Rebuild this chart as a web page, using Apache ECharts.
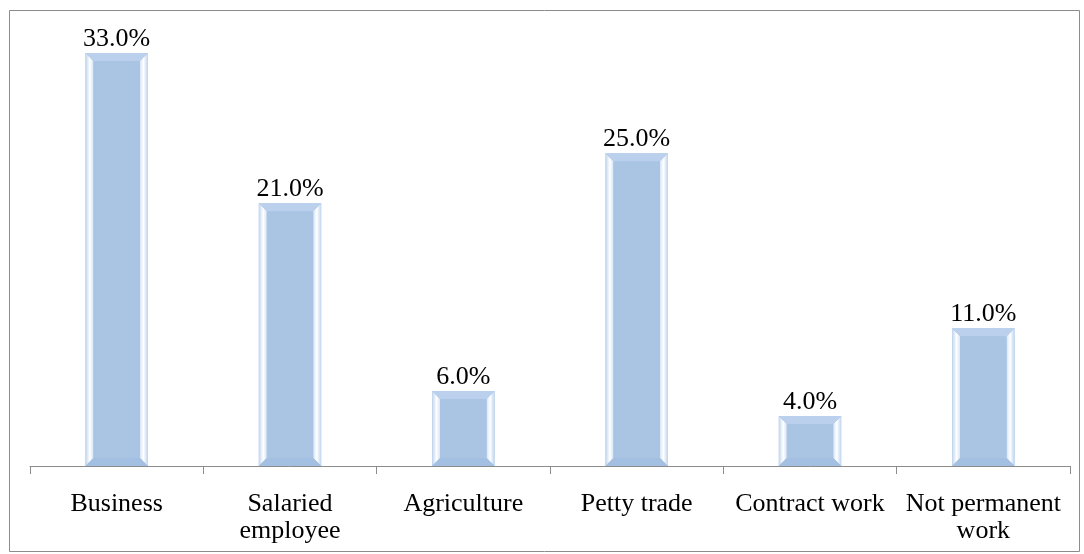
<!DOCTYPE html>
<html><head><meta charset="utf-8">
<script src="https://cdn.jsdelivr.net/npm/echarts@6/dist/echarts.min.js"></script>
<style>html,body{margin:0;padding:0;background:#fff}#c{width:1084px;height:554px}</style>
</head><body><div id="c"></div>
<script>
const categories = ['Business', 'Salaried\nemployee', 'Agriculture', 'Petty trade', 'Contract work', 'Not permanent\nwork'];
const values = [33.0, 21.0, 6.0, 25.0, 4.0, 11.0];

const chart = echarts.init(document.getElementById('c'));
const FONT = '"Liberation Serif", "Times New Roman", serif';

function renderItem(params, api) {
  const idx = api.value(0), val = api.value(1);
  const top = api.coord([idx, val]);
  const base = api.coord([idx, 0]);
  const w = api.size([1, 0])[0] * 0.36;
  const x0 = top[0] - w / 2, x1 = top[0] + w / 2;
  const y0 = top[1], y1 = base[1];
  const b = Math.min(8, (y1 - y0) / 2);
  const sideGrad = (dir) => new echarts.graphic.LinearGradient(dir ? 1 : 0, 0, dir ? 0 : 1, 0, [
    {offset: 0, color: '#c0d5ef'}, {offset: 0.55, color: '#ffffff'}, {offset: 1, color: '#d6e5f7'}]);
  return {
    type: 'group',
    children: [
      {type: 'rect', shape: {x: x0, y: y0, width: w, height: y1 - y0}, style: {fill: '#a9c4e4'}},
      {type: 'polygon', shape: {points: [[x0, y0], [x0 + b, y0 + b], [x0 + b, y1 - b], [x0, y1]]}, style: {fill: sideGrad(false)}},
      {type: 'polygon', shape: {points: [[x1, y0], [x1 - b, y0 + b], [x1 - b, y1 - b], [x1, y1]]}, style: {fill: sideGrad(true)}},
      {type: 'polygon', shape: {points: [[x0, y0], [x1, y0], [x1 - b, y0 + b], [x0 + b, y0 + b]]}, style: {fill: '#bad0ec'}},
      {type: 'polygon', shape: {points: [[x0, y1], [x1, y1], [x1 - b, y1 - b], [x0 + b, y1 - b]]}, style: {fill: '#a3bfe2'}},
      {type: 'rect', shape: {x: x0 + b, y: y0 + b, width: w - 2 * b, height: Math.max(0, y1 - y0 - 2 * b)}, style: {fill: '#aac4e4'}},
      {type: 'text', x: top[0], y: y0 - 1, style: {text: val.toFixed(1) + '%', font: '26px ' + FONT, fill: '#000', align: 'center', verticalAlign: 'bottom'}}
    ]
  };
}

chart.setOption({
  animation: false,
  backgroundColor: '#fff',
  graphic: [{type: 'rect', shape: {x: 9.5, y: 10.5, width: 1070, height: 541}, style: {fill: 'none', stroke: '#8c8c8c', lineWidth: 1}, silent: true}],
  grid: {left: 30, right: 14, top: 28, bottom: 88},
  xAxis: {
    type: 'category', data: categories,
    axisLine: {show: true, lineStyle: {color: '#8c8c8c'}},
    axisTick: {show: true, length: 8, lineStyle: {color: '#8c8c8c'}},
    axisLabel: {color: '#000', fontFamily: FONT, fontSize: 26, margin: 25, lineHeight: 27, interval: 0}
  },
  yAxis: {type: 'value', min: 0, max: 35, show: false, splitLine: {show: false}},
  series: [{
    type: 'custom',
    renderItem: renderItem,
    data: values.map((v, i) => [i, v]),
    encode: {x: 0, y: 1}
  }]
});
</script></body></html>
